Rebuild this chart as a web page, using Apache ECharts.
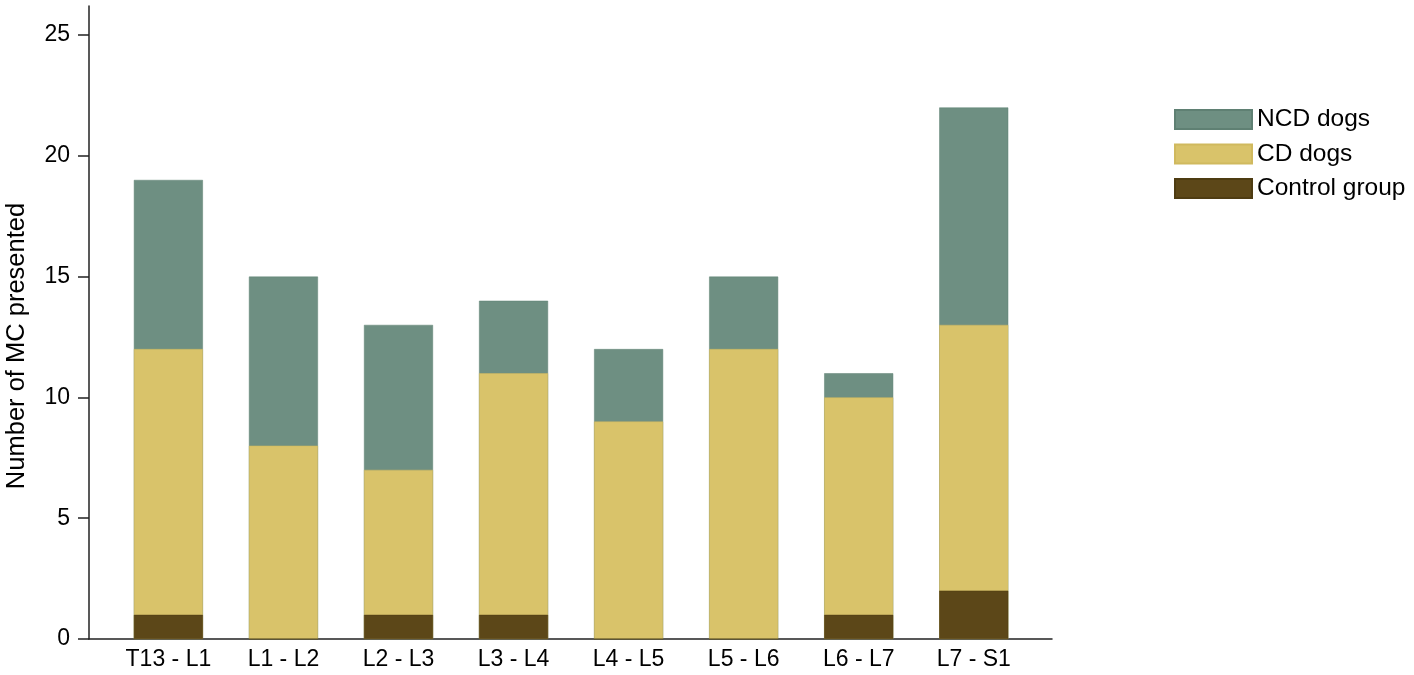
<!DOCTYPE html>
<html>
<head>
<meta charset="utf-8">
<script src="https://cdn.jsdelivr.net/npm/echarts@6/dist/echarts.min.js"></script>
<style>
  html, body { margin: 0; padding: 0; background: #fff; }
  #chart { width: 1414px; height: 675px; }
</style>
</head>
<body>
<div id="chart"></div>
<script>
var categories = ["T13 - L1", "L1 - L2", "L2 - L3", "L3 - L4", "L4 - L5", "L5 - L6", "L6 - L7", "L7 - S1"];
// bar tops (bars overlap, tallest drawn first)
var ncdTop = [19, 15, 13, 14, 12, 15, 11, 22];
var cdTop = [12, 8, 7, 11, 9, 12, 10, 13];
var controlGroup = [1, 0, 1, 1, 0, 0, 1, 2];
var yTicks = [0, 5, 10, 15, 20, 25];
var xPos = [0, 1, 2, 3, 4, 5, 6, 7];

var font = "Liberation Sans, Arial, Helvetica, sans-serif";

function toPoints(vals) {
    var res = [];
    for (var i = 0; i < vals.length; i++) {
        res.push([xPos[i], vals[i]]);
    }
    return res;
}

var chart = echarts.init(document.getElementById("chart"));
chart.setOption({
    animation: false,
    backgroundColor: "#fff",
    textStyle: { fontFamily: font },
    grid: { left: 89, right: 362, top: 6, bottom: 36 },
    legend: {
        orient: "vertical",
        left: 1174,
        top: 107,
        padding: 0,
        itemWidth: 77,
        itemHeight: 19,
        itemGap: 9.5,
        icon: "rect",
        data: ["NCD dogs", "CD dogs", "Control group"],
        textStyle: { fontSize: 24.5, color: "#000", fontFamily: font }
    },
    xAxis: {
        type: "value",
        min: -0.69,
        max: 7.68,
        splitLine: { show: false },
        axisLine: { onZero: false, lineStyle: { color: "#222", width: 1.5 } },
        axisTick: { show: false },
        axisLabel: {
            customValues: xPos,
            margin: 9,
            fontSize: 23,
            color: "#000",
            fontFamily: font,
            formatter: function (v) { return categories[Math.round(v)]; }
        }
    },
    yAxis: {
        type: "value",
        min: 0,
        max: 26.2,
        splitLine: { show: false },
        axisLine: { show: true, onZero: false, lineStyle: { color: "#222", width: 1.5 } },
        axisTick: { show: true, customValues: yTicks, length: 11, lineStyle: { color: "#222", width: 1.5 } },
        axisLabel: { customValues: yTicks, margin: 19, fontSize: 23, color: "#000", fontFamily: font }
    },
    graphic: [{
        type: "text",
        x: 17,
        y: 346,
        rotation: Math.PI / 2,
        style: {
            text: "Number of MC presented",
            fontSize: 25.5,
            fontFamily: font,
            fill: "#000",
            align: "center",
            verticalAlign: "middle"
        }
    }],
    series: [
        {
            name: "NCD dogs",
            type: "bar",
            barWidth: 69,
            barGap: "-100%",
            itemStyle: { color: "#6e8f82", borderColor: "#5f8073", borderWidth: 0.5 },
            data: toPoints(ncdTop)
        },
        {
            name: "CD dogs",
            type: "bar",
            barWidth: 69,
            barGap: "-100%",
            itemStyle: { color: "#d9c36a", borderColor: "#d0b95e", borderWidth: 0.5 },
            data: toPoints(cdTop)
        },
        {
            name: "Control group",
            type: "bar",
            barWidth: 69,
            barGap: "-100%",
            itemStyle: { color: "#5c4718", borderColor: "#4e3c12", borderWidth: 0.5 },
            data: toPoints(controlGroup)
        }
    ]
});
</script>
</body>
</html>
